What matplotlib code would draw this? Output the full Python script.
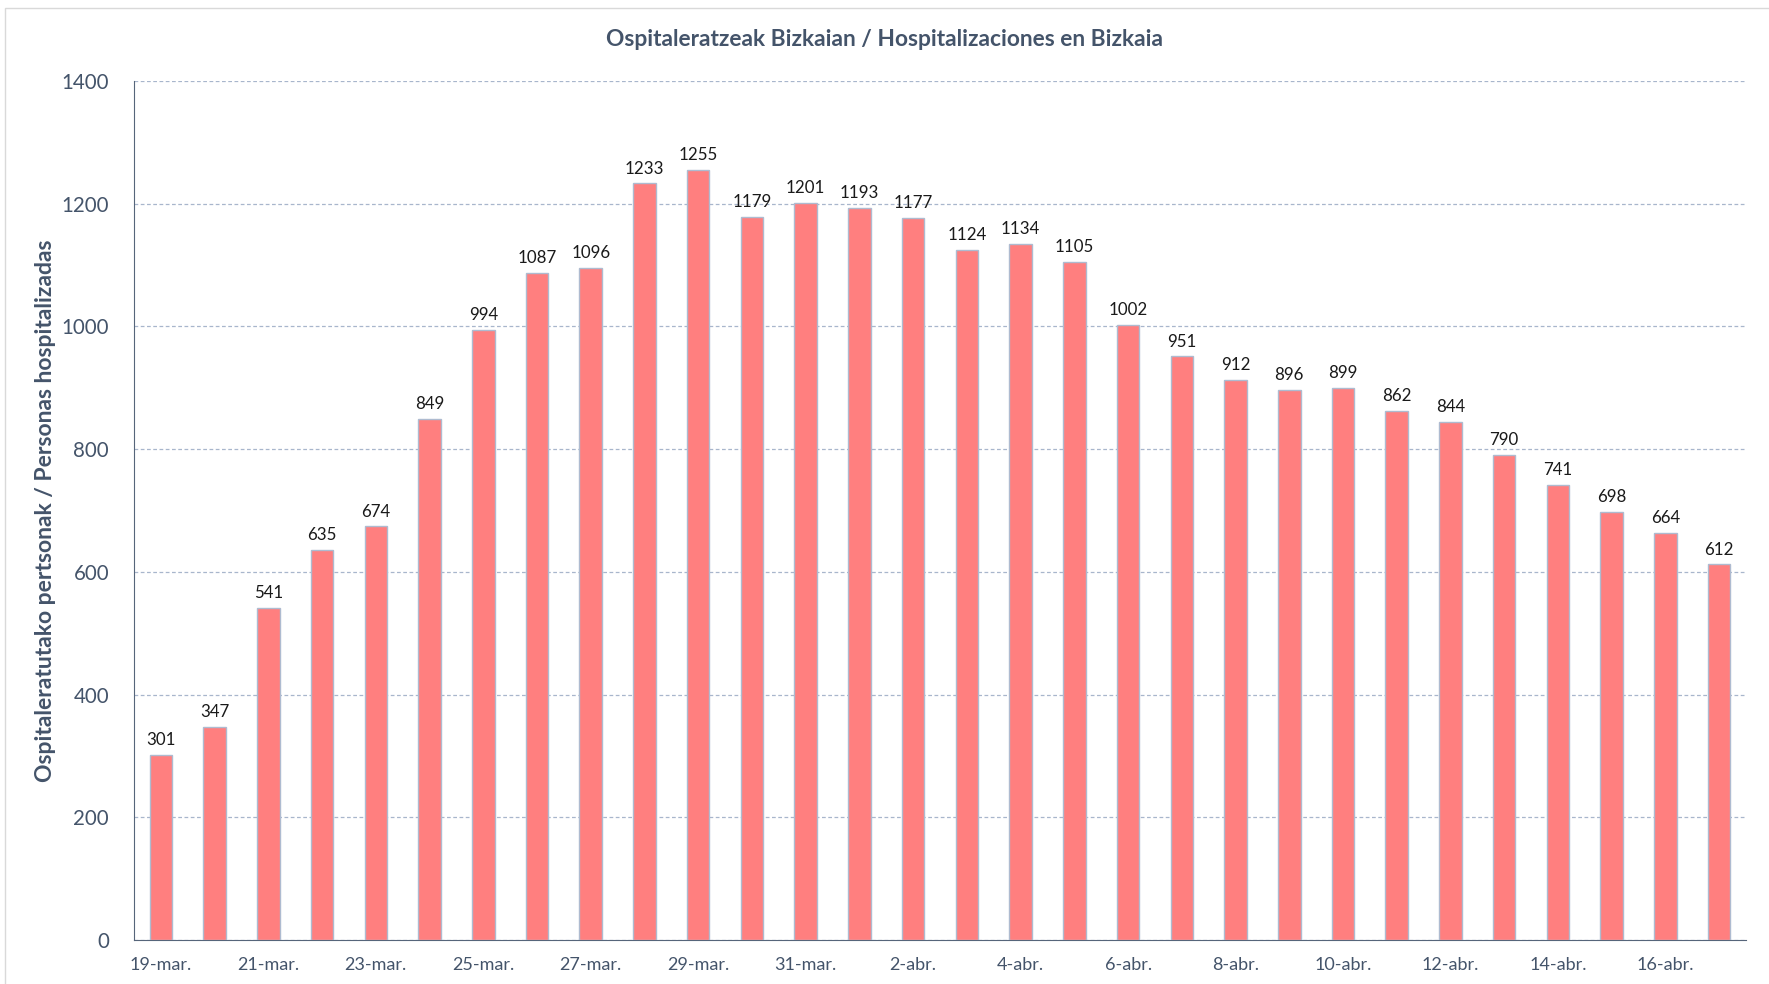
import numpy as np
import matplotlib.pyplot as plt
from matplotlib.patches import Rectangle

plt.rcParams['font.family'] = ['Lato', 'DejaVu Sans']

fechas = ["19-mar.", "20-mar.", "21-mar.", "22-mar.", "23-mar.", "24-mar.", "25-mar.",
          "26-mar.", "27-mar.", "28-mar.", "29-mar.", "30-mar.", "31-mar.", "1-abr.",
          "2-abr.", "3-abr.", "4-abr.", "5-abr.", "6-abr.", "7-abr.", "8-abr.", "9-abr.",
          "10-abr.", "11-abr.", "12-abr.", "13-abr.", "14-abr.", "15-abr.", "16-abr.", "17-abr."]
hospitalizados = [301, 347, 541, 635, 674, 849, 994, 1087, 1096, 1233, 1255, 1179, 1201, 1193,
                  1177, 1124, 1134, 1105, 1002, 951, 912, 896, 899, 862, 844, 790, 741, 698, 664, 612]

txt_col = "#44546a"
x = np.arange(len(fechas))

fig = plt.figure(figsize=(17.69, 9.84), dpi=100)
ax = fig.add_axes([134/1769, 1-940/984, (1746-134)/1769, (940-81)/984])

bars = ax.bar(x, hospitalizados, width=0.42, color="#ff7f7f", edgecolor="#aebbd0", linewidth=1, zorder=3)
for xi, v in zip(x, hospitalizados):
    ax.annotate(str(v), (xi, v), xytext=(0, 5), textcoords="offset points",
                ha="center", va="bottom", fontsize=12.2, color="#1a1a1a")

ax.set_xlim(-0.5, len(fechas)-0.5)
ax.set_ylim(0, 1400)
ax.set_yticks(range(0, 1401, 200))
ax.set_xticks(x[::2])
ax.set_xticklabels(fechas[::2])
ax.tick_params(axis="y", length=0, pad=18, labelsize=14.8, labelcolor=txt_col)
ax.tick_params(axis="x", length=0, pad=12, labelsize=13, labelcolor=txt_col)
ax.yaxis.grid(True, linestyle=(0, (3, 2)), color="#a8b6cc", linewidth=0.9, zorder=0)
ax.set_axisbelow(True)
for s in ["top", "right"]:
    ax.spines[s].set_visible(False)
ax.spines["left"].set_color("#56657a")
ax.spines["bottom"].set_color("#56657a")

ax.set_ylabel("Ospitaleratutako pertsonak / Personas hospitalizadas", fontsize=16.5,
              fontweight="bold", color=txt_col, labelpad=4)
fig.text(0.5, 1-40/984, "Ospitaleratzeak Bizkaian / Hospitalizaciones en Bizkaia",
         ha="center", va="center", fontsize=16.4, fontweight="bold", color=txt_col)

fig.patches.append(Rectangle((5/1769, -0.01), 1.0, 1-8/984+0.01, transform=fig.transFigure,
                             fill=False, edgecolor="#d9d9d9", linewidth=1))

fig.savefig("out.png", dpi=100)
